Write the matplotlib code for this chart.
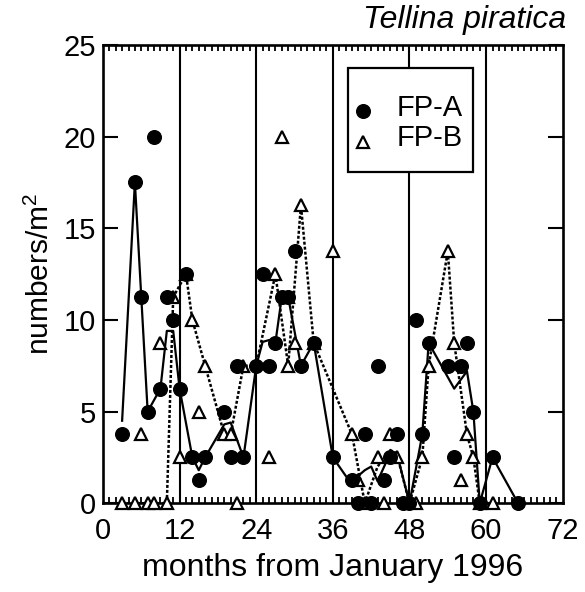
import matplotlib
matplotlib.use("Agg")
import matplotlib.pyplot as plt
from matplotlib.ticker import MultipleLocator
from matplotlib.patches import Rectangle

plt.rcParams['font.family'] = ['Liberation Sans', 'DejaVu Sans']
plt.rcParams['mathtext.fontset'] = 'custom'
plt.rcParams['mathtext.rm'] = 'Liberation Sans'

# FP-A samples (filled circles)
a_months = [3, 5, 6, 7, 8, 9, 10, 11, 12, 13, 14, 15, 16, 19, 20, 21, 22, 24, 25, 26,
            27, 28, 29, 30, 31, 33, 36, 39, 40, 41, 42, 43, 44, 45, 46, 47, 48, 49, 50,
            51, 54, 55, 56, 57, 58, 59, 61, 65]
a_values = [3.75, 17.5, 11.25, 5, 20, 6.25, 11.25, 10, 6.25, 12.5, 2.5, 1.25, 2.5, 5, 2.5,
            7.5, 2.5, 7.5, 12.5, 7.5, 8.75, 11.25, 11.25, 13.75, 7.5, 8.75, 2.5, 1.25, 0,
            3.75, 0, 7.5, 1.25, 2.5, 3.75, 0, 0, 10, 3.75, 8.75, 7.5, 2.5, 7.5, 8.75, 5,
            0, 2.5, 0]

# FP-B samples (open triangles)
b_months = [3, 5, 6, 7, 8, 9, 10, 11, 12, 13, 14, 15, 16, 19, 20, 21, 22, 26, 27, 28,
            29, 29, 30, 31, 33, 36, 39, 40, 41, 43, 44, 45, 46, 49, 50, 51, 54, 55, 56,
            57, 58, 59, 61]
b_values = [0, 0, 3.75, 0, 0, 8.75, 0, 11.25, 2.5, 12.5, 10, 5, 7.5, 3.75, 3.75, 0, 7.5,
            2.5, 12.5, 20, 11.25, 7.5, 8.75, 16.25, 8.75, 13.75, 3.75, 1.25, 0, 2.5, 0,
            3.75, 2.5, 0, 2.5, 7.5, 13.75, 8.75, 1.25, 3.75, 2.5, 0, 0]

# trend lines
a_line_months = [3, 5, 6, 7, 9, 10, 11, 12, 14, 15, 16, 19, 20, 22, 24, 25, 26, 27, 28,
                 29, 31, 33, 36, 39, 40, 41, 42, 43, 45, 46, 48, 50, 51, 55, 57, 58, 59,
                 61, 65]
a_line_values = [4.5, 17.5, 11.25, 5, 6.25, 9.4, 9.4, 6.25, 2.5, 1.8, 2.5, 4.3, 4.4, 2.5,
                 7.5, 8.8, 8.9, 8.75, 11.25, 11.25, 7.5, 8.75, 2.5, 1.0, 1.5, 1.8, 2.0,
                 1.2, 2.75, 2.75, 0, 3.75, 8.75, 6.25, 7.2, 5, 0, 2.5, 0]

b_line_months = [3, 5, 7, 8, 10, 11, 13, 14, 16, 19, 20, 22, 24, 27, 29, 31, 33, 39, 41,
                 43, 45, 46, 48, 50, 51, 54, 55, 57, 58, 59, 61]
b_line_values = [0, 0, 0, 0, 0, 11.25, 12.5, 10, 7.5, 3.75, 3.75, 7.5, 7.5, 12.5, 7.5,
                 16.25, 8.75, 3.75, 0, 2.0, 2.9, 2.7, 0, 2.5, 7.5, 13.75, 8.75, 3.75, 2.5,
                 0, 0]

year_lines = [12, 24, 36, 48, 60]
legend_labels = ['FP-A', 'FP-B']

fig = plt.figure(figsize=(5.85, 5.92), dpi=100)
ax = fig.add_axes([0.176, 0.150, 0.786, 0.774])

for m in year_lines:
    ax.axvline(m, color='black', lw=1.5, zorder=1)

ax.plot(a_line_months, a_line_values, color='black', lw=1.6, zorder=2)
ax.plot(b_line_months, b_line_values, color='black', lw=1.8,
        linestyle=(0, (1.2, 0.8)), zorder=2)

ax.plot(b_months, b_values, linestyle='none', marker='^', ms=8, mfc='white',
        mec='black', mew=1.6, zorder=4, clip_on=False)
ax.plot(a_months, a_values, linestyle='none', marker='o', ms=9.8, mfc='black',
        mec='black', zorder=5, clip_on=False)

ax.set_xlim(0, 72)
ax.set_ylim(0, 25)
ax.xaxis.set_major_locator(MultipleLocator(12))
ax.xaxis.set_minor_locator(MultipleLocator(1))
ax.yaxis.set_major_locator(MultipleLocator(5))

ax.tick_params(axis='x', which='major', length=0, pad=10, labelsize=21)
ax.tick_params(axis='x', which='minor', direction='in', length=4.6, width=1.3,
               top=True, bottom=True)
ax.tick_params(axis='y', which='major', direction='in', length=11, width=1.5,
               left=True, right=True, pad=5, labelsize=21)

for s in ax.spines.values():
    s.set_linewidth(1.9)

ax.set_xlabel('months from January 1996', fontsize=23, labelpad=6)
ax.set_ylabel(r'numbers/m$^\mathrm{2}$', fontsize=21.5, labelpad=6)

ax.text(1.008, 1.022, 'Tellina piratica', transform=ax.transAxes, ha='right',
        va='bottom', fontsize=23, style='italic')

# legend box drawn by hand to match the original spacing
ax.add_patch(Rectangle((0.533, 0.723), 0.272, 0.227, transform=ax.transAxes,
                       facecolor='white', edgecolor='black', lw=1.6, zorder=10))
ax.plot([0.566], [0.856], transform=ax.transAxes, linestyle='none', marker='o',
        ms=9.8, mfc='black', mec='black', zorder=11)
ax.plot([0.566], [0.788], transform=ax.transAxes, linestyle='none', marker='^',
        ms=8, mfc='white', mec='black', mew=1.6, zorder=11)
ax.text(0.639, 0.862, legend_labels[0], transform=ax.transAxes, ha='left',
        va='center', fontsize=21, zorder=11)
ax.text(0.639, 0.797, legend_labels[1], transform=ax.transAxes, ha='left',
        va='center', fontsize=21, zorder=11)

fig.savefig('out.png', dpi=100)
